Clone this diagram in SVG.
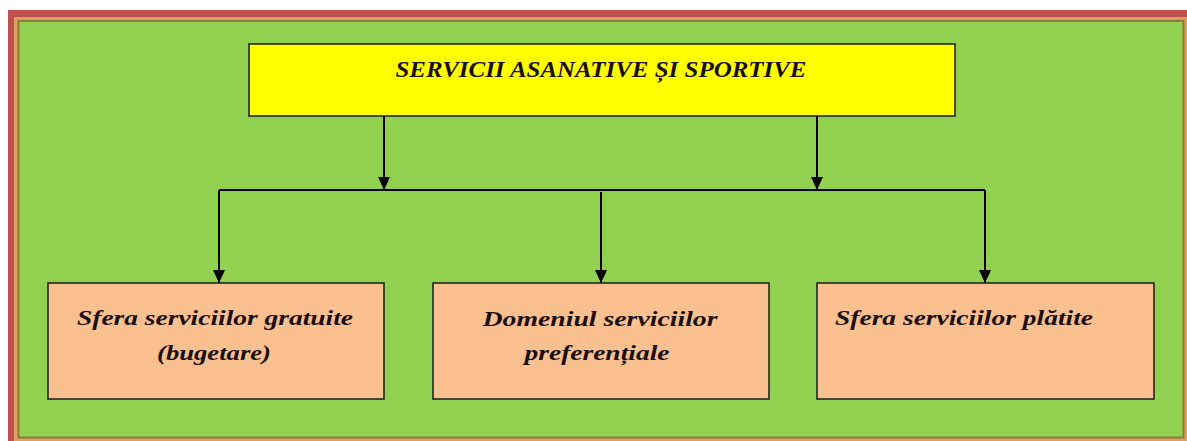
<svg xmlns="http://www.w3.org/2000/svg" width="1187" height="441" viewBox="0 0 1187 441">
  <defs>
    <marker id="arrow" markerUnits="userSpaceOnUse" markerWidth="14" markerHeight="13" refX="13" refY="6" orient="auto">
      <path d="M0,0 L13,6 L0,12 z" fill="#000"/>
    </marker>
    <style>
      .node rect { stroke: #1a1a1a; stroke-width: 1.5; }
      .sub rect { fill: #FAC090; }
      .txt { font-family: 'Liberation Serif', 'DejaVu Serif', 'Times New Roman', serif; font-weight: 700; font-style: italic; fill: #1a0d0d; }
      .conn path { fill: none; stroke: #000; stroke-width: 2; }
    </style>
  </defs>
  <rect x="0" y="0" width="1187" height="441" fill="#ffffff"/>
  <g id="frame">
    <rect x="8" y="10" width="1185" height="440" fill="#C0504D"/>
    <rect x="14" y="17" width="1173" height="430" fill="#D9A05E"/>
    <rect x="18.5" y="21" width="1165" height="416.5" fill="#92D050" stroke="#8C7A3A" stroke-width="2"/>
  </g>
  <g id="top" class="node">
    <rect x="249" y="44" width="706" height="72" fill="#FFFF00"/>
    <text class="txt" x="601" y="77" font-size="24" text-anchor="middle" textLength="411" lengthAdjust="spacingAndGlyphs">SERVICII ASANATIVE ȘI SPORTIVE</text>
  </g>
  <g id="connectors" class="conn">
    <path d="M384,116 V190" marker-end="url(#arrow)"/>
    <path d="M817,116 V190" marker-end="url(#arrow)"/>
    <path d="M219,190 H985"/>
    <path d="M219,190 V283" marker-end="url(#arrow)"/>
    <path d="M601,192 V283" marker-end="url(#arrow)"/>
    <path d="M985,190 V283" marker-end="url(#arrow)"/>
  </g>
  <g id="gratuite" class="node sub">
    <rect x="48" y="283" width="336" height="116"/>
    <text class="txt" x="215" y="325" font-size="22" text-anchor="middle" textLength="276" lengthAdjust="spacingAndGlyphs">Sfera serviciilor gratuite</text>
    <text class="txt" x="214" y="360" font-size="22" text-anchor="middle" textLength="114" lengthAdjust="spacingAndGlyphs">(bugetare)</text>
  </g>
  <g id="preferentiale" class="node sub">
    <rect x="433" y="283" width="336" height="116"/>
    <text class="txt" x="600" y="326" font-size="22" text-anchor="middle" textLength="235" lengthAdjust="spacingAndGlyphs">Domeniul serviciilor</text>
    <text class="txt" x="597" y="360" font-size="22" text-anchor="middle" textLength="145" lengthAdjust="spacingAndGlyphs">preferențiale</text>
  </g>
  <g id="platite" class="node sub">
    <rect x="817" y="283" width="337" height="116"/>
    <text class="txt" x="835" y="325" font-size="22" textLength="258" lengthAdjust="spacingAndGlyphs">Sfera serviciilor plătite</text>
  </g>
</svg>
